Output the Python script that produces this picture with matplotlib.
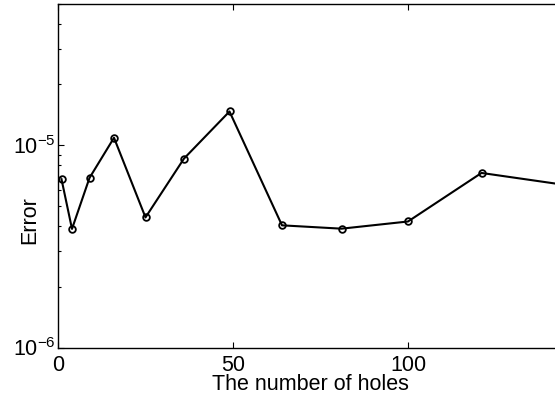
import matplotlib
matplotlib.use('Agg')
import matplotlib.pyplot as plt
import numpy as np

# number of holes (squares) and error
holes = [1, 4, 9, 16, 25, 36, 49, 64, 81, 100, 121, 144]
error = [6.8e-6, 3.86e-6, 6.9e-6, 1.09e-5, 4.4e-6, 8.6e-6, 1.47e-5,
         4.02e-6, 3.87e-6, 4.2e-6, 7.3e-6, 6.4e-6]

xticks = [0, 50, 100]
xlabels = ['0', '50', '100']

plt.rcParams['font.family'] = ['Liberation Sans', 'DejaVu Sans']
plt.rcParams['mathtext.fontset'] = 'custom'
plt.rcParams['mathtext.rm'] = 'Liberation Sans'
plt.rcParams['mathtext.it'] = 'Liberation Sans'

FS = 15.5

fig = plt.figure(figsize=(5.55, 3.98), dpi=100)
# the axes run a little past the right edge of the picture (cropped like the original)
ax = fig.add_axes([58 / 555, 50.5 / 398, 504 / 555, 343.5 / 398])

ax.plot(holes, error, color='black', lw=1.5, marker='o', markersize=4.8,
        markerfacecolor='none', markeredgecolor='black', markeredgewidth=1.3)

ax.set_yscale('log')
ax.set_xlim(0, 144)
ax.set_ylim(1e-6, 5e-5)
ax.set_xticks(xticks)
ax.set_xticklabels(xlabels)
ax.set_yticks([1e-6, 1e-5])
ax.set_yticklabels([r'$10^{-6}$', r'$10^{-5}$'])

ax.tick_params(which='both', direction='in', top=True, right=False,
               labelsize=FS, width=0.8)
ax.tick_params(axis='x', pad=5.5)
ax.tick_params(axis='y', pad=2)
ax.tick_params(which='major', length=4)
ax.tick_params(which='minor', length=2.5)
ax.tick_params(axis='x', which='minor', bottom=False, top=False)

for s in ax.spines.values():
    s.set_linewidth(1.0)
ax.spines['right'].set_visible(False)

ax.set_xlabel('The number of holes', fontsize=FS, labelpad=-1.5)
ax.set_ylabel('Error', fontsize=FS)
ax.yaxis.set_label_coords(-0.036, 0.371)

fig.savefig('out.png', dpi=100)
